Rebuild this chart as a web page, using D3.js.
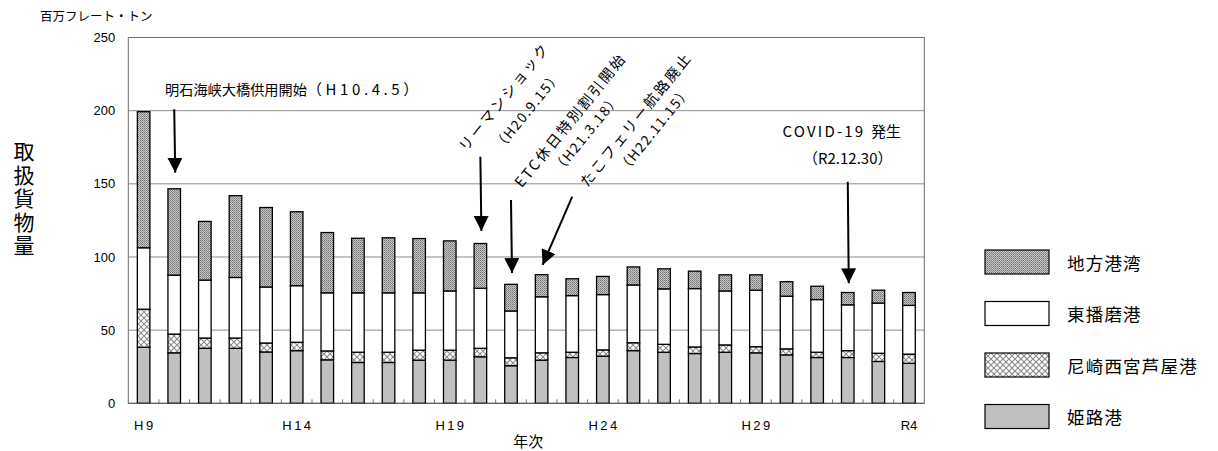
<!DOCTYPE html>
<html><head><meta charset="utf-8">
<script src="https://cdn.jsdelivr.net/npm/d3@7"></script>
<style>body{margin:0;background:#fff;}svg{display:block;}</style>
</head><body>
<svg id="chart" width="1218" height="451"></svg>
<script>
// ---- data ----
const years = ["H9","H10","H11","H12","H13","H14","H15","H16","H17","H18","H19","H20","H21","H22","H23","H24","H25","H26","H27","H28","H29","H30","R1","R2","R3","R4"];
const tickLabels = ["H9","H14","H19","H24","H29","R4"];
const himeji   = [38.3,34.5,37.6,37.6,35.1,36.0,29.7,27.9,27.9,29.5,29.5,31.8,25.7,29.5,31.3,32.2,36.0,34.9,34.0,34.9,34.5,33.1,31.3,31.3,28.6,27.3];
const amagasaki= [26.0,12.8,7.0,7.0,6.1,5.7,6.1,7.0,7.0,6.8,6.8,5.8,5.4,5.0,3.6,4.3,5.4,5.4,4.5,5.0,4.2,4.1,3.6,4.7,5.6,6.3];
const higashi  = [42.0,40.3,39.6,41.4,38.3,38.7,39.7,40.6,40.6,39.2,40.5,41.0,32.0,38.3,38.7,37.8,39.5,37.9,39.9,36.9,38.6,36.0,36.0,31.3,34.3,33.3];
const chiho    = [93.0,59.0,40.1,55.9,54.3,50.5,41.2,37.3,37.6,37.1,34.2,30.6,18.2,15.1,11.5,12.4,12.3,13.7,11.9,11.0,10.5,9.9,9.1,8.4,8.8,8.8];
const seriesNames = ["姫路港","尼崎西宮芦屋港","東播磨港","地方港湾"];
const legendOrder = ["地方港湾","東播磨港","尼崎西宮芦屋港","姫路港"];
const yTicks = [0,50,100,150,200,250];
const yGrid = [50,100,150,200];
const unitLabel = "百万フレート・トン";
const yTitle = "取扱貨物量";
const xTitle = "年次";
// annotations: arrow from/to in (year, value)
const arrows = [
  {from:["H10",201], to:["H10",157.5]},
  {from:["H20",168.5], to:["H20",117.8]},
  {from:["H21",139], to:["H21",89]},
  {from:["H23",141.3], to:["H22",94.6]},
  {from:["R2",151.4], to:["R2",82]}
];
const akashiText = ["明石海峡大橋供用開始","（H10.4.5）"];
const rotatedNotes = [
  {lines:["リーマンショック","（H20.9.15）"], at:[12.25,210], gap:27, shift:4},
  {lines:["ETC休日特別割引開始","（H21.3.18）"], at:[14.41,194], gap:21, shift:0},
  {lines:["たこフェリー航路廃止","（H22.11.15）"], at:[16.55,194.6], gap:21, shift:4}
];
const covidLines = ["COVID-19 発生","（R2.12.30）"];

// ---- layout ----
const svg = d3.select("#chart");
const L = 128.3, R = 924.3, T = 37.5, B = 403.3;
const x = d3.scaleBand().domain(years).range([L,R]).paddingInner(0.59).paddingOuter(0.295);
const xi = d3.scaleLinear().domain([0,years.length]).range([L,R]);
const y = d3.scaleLinear().domain([0,250]).range([B,T]);
const cx = yr => x(yr) + x.bandwidth()/2;
const jp = "'Noto Sans CJK JP', sans-serif";
const lat = "'Liberation Sans', Arial, sans-serif";

const defs = svg.append("defs");
// 地方港湾: fine stipple
const p1 = defs.append("pattern").attr("id","pChiho").attr("patternUnits","userSpaceOnUse").attr("width",2).attr("height",2);
p1.append("rect").attr("width",2).attr("height",2).attr("fill","#c8c8c8");
p1.append("rect").attr("x",0).attr("y",0).attr("width",1).attr("height",1).attr("fill","#727272");
p1.append("rect").attr("x",1).attr("y",1).attr("width",1).attr("height",1).attr("fill","#8e8e8e");
// 尼崎: diamond lattice
const p2 = defs.append("pattern").attr("id","pAma").attr("patternUnits","userSpaceOnUse").attr("width",6).attr("height",6);
p2.append("rect").attr("width",6).attr("height",6).attr("fill","#fff");
p2.append("path").attr("d","M0,0L6,6M6,0L0,6").attr("stroke","#8a8a8a").attr("stroke-width",1.1);

const fills = {"姫路港":"#c0c0c0","尼崎西宮芦屋港":"url(#pAma)","東播磨港":"#ffffff","地方港湾":"url(#pChiho)"};

// gridlines
svg.append("g").selectAll("line").data(yGrid).join("line")
  .attr("x1",L).attr("x2",R).attr("y1",d=>y(d)).attr("y2",d=>y(d))
  .attr("stroke","#8c8c8c").attr("stroke-width",1);

// frame
svg.append("rect").attr("x",L).attr("y",T).attr("width",R-L).attr("height",B-T)
  .attr("fill","none").attr("stroke","#6e6e6e").attr("stroke-width",1);

// x minor ticks at band boundaries
svg.append("g").selectAll("line").data(d3.range(1,years.length)).join("line")
  .attr("x1",d=>xi(d)).attr("x2",d=>xi(d)).attr("y1",B).attr("y2",B-4)
  .attr("stroke","#777").attr("stroke-width",1);

// stacked bars
const table = years.map((yr,i)=>({year:yr,"姫路港":himeji[i],"尼崎西宮芦屋港":amagasaki[i],"東播磨港":higashi[i],"地方港湾":chiho[i]}));
const stack = d3.stack().keys(seriesNames)(table);
svg.append("g").selectAll("g").data(stack).join("g")
  .attr("fill",s=>fills[s.key])
  .selectAll("rect").data(s=>s).join("rect")
  .attr("x",d=>x(d.data.year)).attr("width",x.bandwidth())
  .attr("y",d=>y(d[1])).attr("height",d=>y(d[0])-y(d[1]))
  .attr("stroke","#000").attr("stroke-width",1.3);

// bottom axis line
svg.append("line").attr("x1",L).attr("x2",R).attr("y1",B).attr("y2",B).attr("stroke","#555").attr("stroke-width",1);

// y axis labels
const ya = svg.append("g").attr("transform",`translate(${L},0)`)
  .call(d3.axisLeft(y).tickValues(yTicks).tickSize(0).tickPadding(13));
ya.select(".domain").remove();
ya.selectAll("text").attr("font-family",lat).attr("font-size",13).attr("fill","#000");

// x labels
svg.append("g").selectAll("text").data(tickLabels).join("text")
  .attr("x",d=>cx(d) + (d==="R4"?0:1.2)).attr("y",430)
  .attr("text-anchor","middle")
  .attr("letter-spacing",d=>d==="R4"?0:2.4)
  .attr("font-family",lat).attr("font-size",13).attr("fill","#000")
  .text(d=>d);

svg.append("text").attr("x",(L+R)/2+2).attr("y",447).attr("text-anchor","middle")
  .attr("font-family",jp).attr("font-size",15).text(xTitle);
svg.append("text").attr("x",40).attr("y",21).attr("font-family",jp).attr("font-size",12.5).text(unitLabel);
svg.append("text").attr("x",24).attr("y",141)
  .attr("writing-mode","vertical-rl").attr("letter-spacing",2.5)
  .attr("font-family",jp).attr("font-size",21).text(yTitle);

// arrows
const marker = defs.append("marker").attr("id","ah").attr("viewBox","0 0 10 10").attr("refX",10).attr("refY",5)
  .attr("markerUnits","userSpaceOnUse").attr("markerWidth",15).attr("markerHeight",15).attr("orient","auto");
marker.append("path").attr("d","M0,0L10,5L0,10Z").attr("fill","#000");
svg.append("g").selectAll("line").data(arrows).join("line")
  .attr("x1",d=>cx(d.from[0])).attr("y1",d=>y(d.from[1]))
  .attr("x2",d=>cx(d.to[0])+1).attr("y2",d=>y(d.to[1]))
  .attr("stroke","#000").attr("stroke-width",2).attr("marker-end","url(#ah)");

// horizontal annotation
const ak = svg.append("text").attr("x",xi(1.2)).attr("y",y(210.7)).attr("font-family",jp).attr("font-size",14.2);
ak.append("tspan").text(akashiText[0]);
ak.append("tspan").attr("letter-spacing",3.6).attr("font-size",15).text(akashiText[1]);

// rotated annotations
const ang = 51, rad = ang*Math.PI/180;
const perp = [Math.sin(rad), Math.cos(rad)], along = [Math.cos(rad), -Math.sin(rad)];
rotatedNotes.forEach(n=>{
  const px = xi(n.at[0]), py = y(n.at[1]);
  n.lines.forEach((t,k)=>{
    const ox = k? n.gap*perp[0] + n.shift*along[0] : 0;
    const oy = k? n.gap*perp[1] + n.shift*along[1] : 0;
    svg.append("text").attr("transform",`translate(${px+ox},${py+oy}) rotate(${-ang})`)
      .attr("text-anchor","middle").attr("dominant-baseline","central")
      .attr("letter-spacing",k===0?2.3:1.4)
      .attr("font-family",jp).attr("font-size",k===0?14.5:13.8).text(t);
  });
});

// covid
const cv = svg.append("g");
const cv1 = cv.append("text").attr("x",cx("R2")-6).attr("y",y(182)).attr("text-anchor","middle").attr("font-family",jp).attr("font-size",15);
cv1.append("tspan").attr("letter-spacing",2.2).text(covidLines[0].split(" ")[0]+" ");
cv1.append("tspan").text(covidLines[0].split(" ")[1]);
cv.append("text").attr("x",cx("R2")).attr("y",y(163.5)).attr("text-anchor","middle").attr("font-family",jp).attr("font-size",15).text(covidLines[1]);

// legend
const lg = svg.append("g").selectAll("g").data(legendOrder).join("g")
  .attr("transform",(d,i)=>`translate(985,${250+i*51.5})`);
lg.append("rect").attr("width",64).attr("height",24).attr("fill",d=>fills[d]).attr("stroke","#000").attr("stroke-width",1.2);
lg.append("text").attr("x",82).attr("y",12).attr("dominant-baseline","central")
  .attr("letter-spacing",1.2)
  .attr("font-family",jp).attr("font-size",17.5).text(d=>d);
</script>
</body></html>
